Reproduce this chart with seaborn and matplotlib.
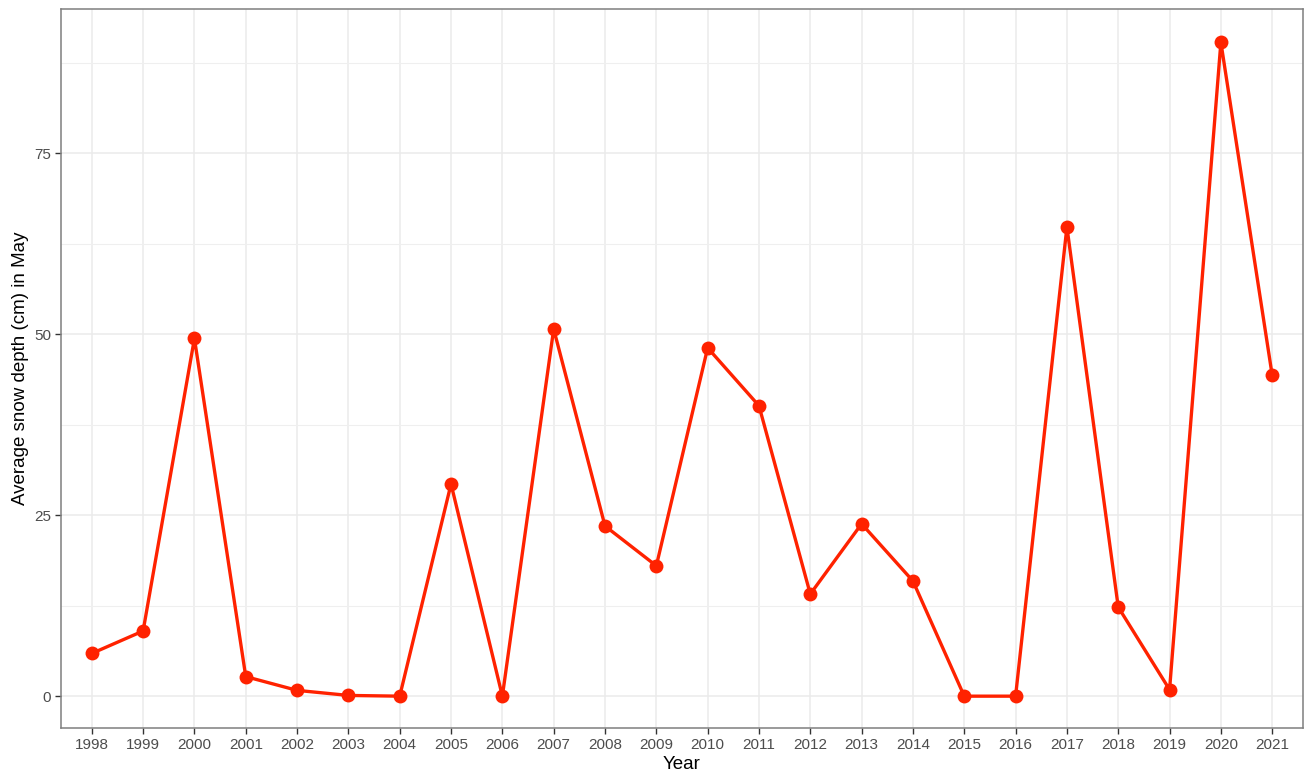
import pandas as pd
import seaborn as sns
import matplotlib.pyplot as plt
from matplotlib.ticker import MultipleLocator

# data
years = list(range(1998, 2022))
snow_depth = [5.9, 9.0, 49.4, 2.7, 0.8, 0.1, 0.0, 29.3, 0.0, 50.7, 23.5, 18.0,
              48.1, 40.1, 14.1, 23.8, 15.9, 0.0, 0.0, 64.8, 12.3, 0.9, 90.3, 44.3]
y_ticks = [0, 25, 50, 75]

df = pd.DataFrame({'Year': years, 'Depth': snow_depth})

sns.set_theme(style='whitegrid')
plt.rcParams['font.family'] = ['Liberation Sans', 'DejaVu Sans']

fig = plt.figure(figsize=(13.06, 7.74), dpi=100)
ax = fig.add_axes([0.0467, 0.0594, 0.951, 0.929])

sns.lineplot(data=df, x='Year', y='Depth', color='#FF2200', linewidth=2.4,
             marker='o', markersize=10, markeredgewidth=0, ax=ax)

ax.set_xlim(1997.4, 2021.6)
ax.set_ylim(-4.4, 94.9)
ax.set_xticks(years)
ax.set_xticklabels([str(y) for y in years])
ax.set_yticks(y_ticks)
ax.yaxis.set_minor_locator(MultipleLocator(12.5))

ax.grid(which='major', color='#EBEBEB', linewidth=1.1)
ax.grid(which='minor', axis='y', color='#EFEFEF', linewidth=0.8)
ax.set_axisbelow(True)
for s in ax.spines.values():
    s.set_color('#7F7F7F')
    s.set_linewidth(1.1)

ax.tick_params(axis='both', which='major', length=4, width=1, color='#333333',
               labelsize=11, labelcolor='#4D4D4D', pad=3, bottom=True, left=True)
ax.tick_params(axis='both', which='minor', length=0)

ax.set_xlabel('Year', fontsize=13.5, color='black', labelpad=3)
ax.set_ylabel('Average snow depth (cm) in May', fontsize=13.5, color='black', labelpad=4)

plt.savefig('out.png', dpi=100)
